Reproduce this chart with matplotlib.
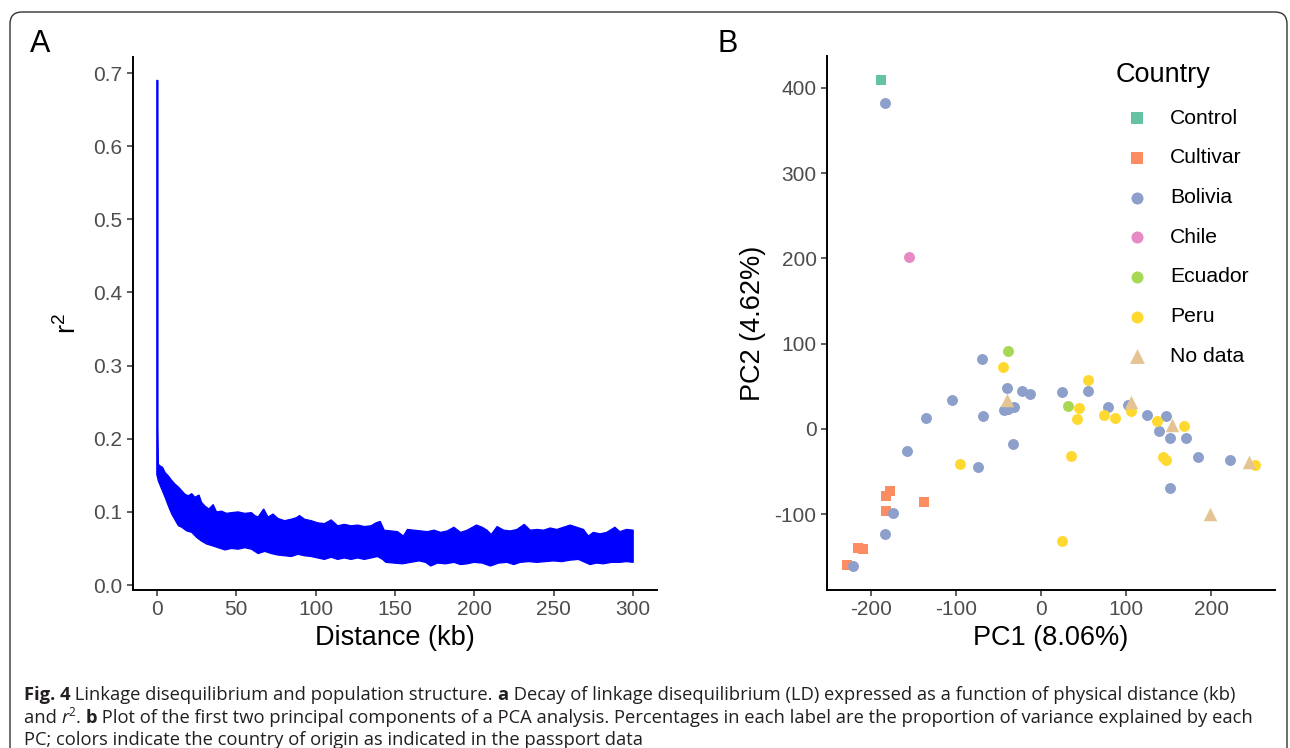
import matplotlib
matplotlib.use("Agg")
import matplotlib.pyplot as plt
from matplotlib.patches import FancyBboxPatch
from matplotlib.transforms import IdentityTransform

plt.rcParams['font.family'] = ['Liberation Sans', 'DejaVu Sans']
plt.rcParams['axes.unicode_minus'] = False
plt.rcParams['mathtext.fontset'] = 'custom'
plt.rcParams['mathtext.rm'] = 'Liberation Sans'
plt.rcParams['mathtext.it'] = 'Liberation Sans:italic'

# ---------------- Panel A data: LD decay band (upper / lower envelope) ----
ld_upper_kb = [0, 0.7, 0.7, 1.0, 2.0, 3.6, 5.2, 7.3, 9.4, 11.5, 13.6, 15.7, 17.8,
               19.9, 22.0, 24.0, 26.6, 28.2, 30.3, 32.8, 35.5, 37.6, 40.8, 43.9,
               47.0, 51.2, 55.4, 59.6, 61.7, 63.8, 67.3, 70.0, 73.2, 76.3, 80.5,
               84.7, 87.8, 89.9, 93.0, 97.2, 101.4, 105.6, 109.8, 113.9, 118.1,
               122.3, 126.5, 130.7, 134.9, 138.0, 140.7, 143.2, 147.4, 151.6,
               155.3, 157.8, 162.0, 166.2, 170.4, 174.6, 178.8, 182.9, 187.1,
               191.3, 195.5, 201.3, 204.9, 208.0, 210.6, 214.3, 218.5, 222.7,
               226.8, 231.4, 235.2, 239.4, 243.6, 247.7, 251.9, 256.1, 260.3,
               264.5, 268.7, 271.8, 274.9, 279.1, 283.3, 288.5, 291.6, 295.8, 300.0]
ld_upper_r2 = [0.690, 0.690, 0.215, 0.165, 0.163, 0.161, 0.154, 0.149, 0.143, 0.138,
               0.134, 0.129, 0.124, 0.122, 0.125, 0.120, 0.123, 0.113, 0.108, 0.104,
               0.110, 0.100, 0.101, 0.098, 0.099, 0.100, 0.098, 0.099, 0.095, 0.093,
               0.104, 0.093, 0.097, 0.091, 0.088, 0.090, 0.092, 0.095, 0.090, 0.088,
               0.085, 0.084, 0.089, 0.081, 0.083, 0.081, 0.082, 0.080, 0.081, 0.085,
               0.087, 0.075, 0.074, 0.073, 0.067, 0.076, 0.075, 0.074, 0.073, 0.075,
               0.072, 0.074, 0.079, 0.072, 0.075, 0.082, 0.079, 0.075, 0.069, 0.080,
               0.075, 0.074, 0.076, 0.083, 0.075, 0.076, 0.075, 0.078, 0.076, 0.079,
               0.082, 0.079, 0.076, 0.067, 0.072, 0.070, 0.072, 0.079, 0.073, 0.076,
               0.075]
ld_lower_kb = [0, 1.0, 3.1, 5.2, 7.3, 9.4, 11.5, 13.6, 15.7, 18.8, 22.0, 25.1, 28.2,
               31.4, 34.5, 38.7, 42.9, 47.0, 51.2, 55.4, 59.6, 63.8, 68.0, 72.1,
               76.3, 80.5, 84.7, 88.9, 93.0, 97.2, 101.4, 105.6, 109.8, 113.9,
               118.1, 122.3, 126.5, 130.7, 134.9, 139.0, 142.2, 144.3, 149.5,
               154.7, 159.9, 165.1, 169.3, 172.5, 176.7, 181.9, 187.1, 191.3,
               195.5, 199.7, 204.9, 210.1, 215.3, 220.6, 224.8, 228.9, 234.2,
               239.4, 244.6, 249.8, 255.1, 260.3, 265.5, 269.7, 272.8, 277.0,
               281.2, 286.4, 291.6, 295.8, 300.0]
ld_lower_r2 = [0.151, 0.142, 0.131, 0.120, 0.108, 0.097, 0.089, 0.081, 0.079, 0.074,
               0.072, 0.065, 0.060, 0.056, 0.054, 0.051, 0.048, 0.050, 0.049, 0.051,
               0.049, 0.043, 0.046, 0.043, 0.041, 0.040, 0.039, 0.042, 0.040, 0.039,
               0.037, 0.035, 0.038, 0.035, 0.037, 0.035, 0.037, 0.035, 0.037, 0.039,
               0.035, 0.031, 0.030, 0.029, 0.031, 0.033, 0.031, 0.026, 0.030, 0.029,
               0.031, 0.028, 0.029, 0.031, 0.030, 0.026, 0.030, 0.031, 0.028, 0.031,
               0.032, 0.031, 0.032, 0.033, 0.032, 0.034, 0.035, 0.031, 0.028, 0.030,
               0.029, 0.031, 0.031, 0.032, 0.031]

# ---------------- Panel B data: PCA scores by country ---------------------
countries = ['Control', 'Cultivar', 'Bolivia', 'Chile', 'Ecuador', 'Peru', 'No data']
colors = ['#66C2A5', '#FC8D62', '#8DA0CB', '#E78AC3', '#A6D854', '#FFD92F', '#E5C494']
markers = ['s', 's', 'o', 'o', 'o', 'o', '^']

pc1_control = [-188]
pc2_control = [409]
pc1_cultivar = [-227.5, -215.5, -209.4, -182, -177.2, -182, -136.9]
pc2_cultivar = [-159.2, -139.6, -141.2, -79.2, -72.2, -95.7, -85.1]
pc1_bolivia = [-183.2, -220.7, -183.2, -174.4, -157.1, -134.9, -104.7, -69.7, -68.5,
               -74.5, -40.3, -43.1, -38.3, -32.2, -33.4, -22.2, -12.9, 25.0, 54.8,
               78.1, 102.7, 124.0, 139.0, 146.2, 151.0, 170.8, 184.5, 221.5, 151.0]
pc2_bolivia = [382.4, -160.4, -123.1, -98.0, -25.9, 12.9, 33.7, 81.6, 14.9,
               -44.7, 48.6, 22.0, 23.5, 25.9, -18.0, 44.3, 40.8, 43.1, 45.1,
               26.3, 28.2, 16.9, -2.4, 15.3, -10.2, -10.2, -32.9, -36.1, -69.4]
pc1_chile = [-155.5]
pc2_chile = [201.2]
pc1_ecuador = [-38.3, 32.2]
pc2_ecuador = [91.8, 27.1]
pc1_peru = [-44.3, -95.4, 35.4, 24.2, 44.3, 42.3, 54.8, 74.1, 86.6, 105.9, 135.7,
            143.0, 146.2, 168.3, 250.9]
pc2_peru = [72.2, -41.6, -32.2, -131.0, 24.3, 12.2, 58.0, 16.1, 12.9, 20.8, 9.4,
            -32.9, -36.1, 3.5, -42.0]
pc1_nodata = [-40.3, 105.5, 153.8, 198.1, 244.0]
pc2_nodata = [34.5, 31.8, 5.1, -99.6, -38.8]

series_x = [pc1_control, pc1_cultivar, pc1_bolivia, pc1_chile, pc1_ecuador, pc1_peru, pc1_nodata]
series_y = [pc2_control, pc2_cultivar, pc2_bolivia, pc2_chile, pc2_ecuador, pc2_peru, pc2_nodata]

W, H = 1290, 748
fig = plt.figure(figsize=(W / 100, H / 100), dpi=100)
fig.patch.set_facecolor('white')

def frac_rect(l, t, r, b):
    return [l / W, 1 - b / H, (r - l) / W, (b - t) / H]

TICK_COLOR = '#4D4D4D'

def style_axes(ax):
    for s in ['top', 'right']:
        ax.spines[s].set_visible(False)
    for s in ['left', 'bottom']:
        ax.spines[s].set_linewidth(1.4)
        ax.spines[s].set_color('black')
    ax.tick_params(axis='both', which='major', length=4.5, width=1.1, color='#333333',
                   labelsize=15, labelcolor=TICK_COLOR, pad=3)

# ---------------- Panel A ----------------
axA = fig.add_axes(frac_rect(133, 57, 657, 590))
band_x = ld_upper_kb + ld_lower_kb[::-1]
band_y = ld_upper_r2 + ld_lower_r2[::-1]
axA.fill(band_x, band_y, facecolor='#0000FF', edgecolor='#0000FF', linewidth=0.9)
axA.set_xlim(-15, 315)
axA.set_ylim(-0.0068, 0.722)
axA.set_xticks([0, 50, 100, 150, 200, 250, 300])
axA.set_yticks([0.0, 0.1, 0.2, 0.3, 0.4, 0.5, 0.6, 0.7])
axA.set_yticklabels(['0.0', '0.1', '0.2', '0.3', '0.4', '0.5', '0.6', '0.7'])
style_axes(axA)
axA.set_xlabel('Distance (kb)', fontsize=19.5, color='black', labelpad=4)
axA.set_ylabel(r'$\mathregular{r^2}$', fontsize=19.5, color='black', labelpad=8)

# ---------------- Panel B ----------------
axB = fig.add_axes(frac_rect(827, 56.4, 1275, 590))
for name, col, mk, xs, ys in zip(countries, colors, markers, series_x, series_y):
    size = 95 if mk == '^' else 62
    axB.scatter(xs, ys, s=size, c=col, marker=mk, linewidths=0, label=name, zorder=3)
axB.set_xlim(-251.4, 274.8)
axB.set_ylim(-188.9, 437)
axB.set_xticks([-200, -100, 0, 100, 200])
axB.set_yticks([-100, 0, 100, 200, 300, 400])
style_axes(axB)
axB.set_xlabel('PC1 (8.06%)', fontsize=19.5, color='black', labelpad=4)
axB.set_ylabel('PC2 (4.62%)', fontsize=19.5, color='black', labelpad=6)

leg = axB.legend(title='Country', loc='upper left',
                 bbox_to_anchor=(1116 / W, 1 - 62 / H), bbox_transform=fig.transFigure,
                 frameon=False, fontsize=15.2, title_fontsize=19.5,
                 borderpad=0, borderaxespad=0, labelspacing=0.98,
                 handlelength=2.0, handletextpad=0.55, alignment='left',
                 scatterpoints=1, markerscale=1.1)

# ---------------- Panel letters ----------------
fig.text(40 / W, 1 - 44 / H, 'A', fontsize=22, ha='center', va='center', color='black')
fig.text(728 / W, 1 - 44 / H, 'B', fontsize=22, ha='center', va='center', color='black')

# ---------------- Border ----------------
border = FancyBboxPatch((10, -30), 1277, 766, boxstyle='round,pad=0,rounding_size=12',
                        transform=IdentityTransform(), fill=False, edgecolor='#333333',
                        linewidth=1.0)
fig.add_artist(border)

# ---------------- Caption ----------------
cap_font = ['Open Sans', 'DejaVu Sans']
CAP_COLOR = '#231F20'

cap_lines = [
    [("Fig. 4", 'bold'), (" Linkage disequilibrium and population structure. ", 'normal'),
     ("a", 'bold'),
     (" Decay of linkage disequilibrium (LD) expressed as a function of physical distance (kb)", 'normal')],
    [("and ", 'normal'), ("r", 'italic'), ("2", 'sup'), (". ", 'normal'), ("b", 'bold'),
     (" Plot of the first two principal components of a PCA analysis. Percentages in each label are the proportion of variance explained by each", 'normal')],
    [("PC; colors indicate the country of origin as indicated in the passport data", 'normal')],
]
cap_baselines = [700, 723, 745]

renderer = fig.canvas.get_renderer()

def seg_kwargs(style, size):
    kw = dict(family=cap_font, color=CAP_COLOR, fontsize=size)
    if style == 'bold':
        kw['fontweight'] = 'bold'
    elif style == 'italic':
        kw['fontstyle'] = 'italic'
    elif style == 'sup':
        kw['fontsize'] = size * 0.65
    return kw

def text_width(s, kw):
    t1 = fig.text(0, 0, '|' + s + '|', transform=IdentityTransform(), **kw)
    t2 = fig.text(0, 0, '||', transform=IdentityTransform(), **kw)
    w = t1.get_window_extent(renderer).width - t2.get_window_extent(renderer).width
    t1.remove()
    t2.remove()
    return w

def line_width(segs, size):
    return sum(text_width(s, seg_kwargs(st, size)) for s, st in segs)

base = 12.0
w1 = line_width(cap_lines[0], base)
w2 = line_width(cap_lines[1], base)
cap_size = base * 0.5 * (1207.0 / w1 + 1215.0 / w2)

for segs, bl in zip(cap_lines, cap_baselines):
    x = 24.0
    for s, st in segs:
        kw = seg_kwargs(st, cap_size)
        y = H - bl
        if st == 'sup':
            y += cap_size * 0.55
        fig.text(x, y, s, transform=IdentityTransform(), ha='left', va='baseline', **kw)
        x += text_width(s, kw)

fig.savefig('out.png', dpi=100, facecolor='white')
